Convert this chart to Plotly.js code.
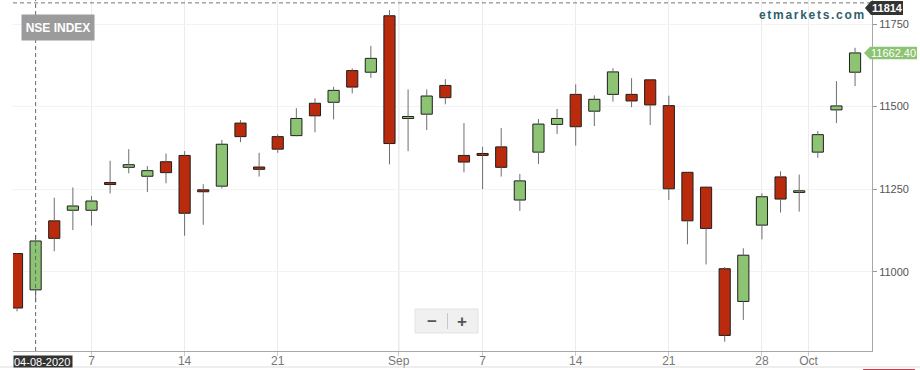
<!DOCTYPE html>
<html>
<head>
<meta charset="utf-8">
<script src="https://cdn.plot.ly/plotly-3.0.1.min.js"></script>
<style>
html,body{margin:0;padding:0;background:#fff;}
#chart{width:920px;height:370px;}
</style>
</head>
<body>
<div id="chart"></div>
<script>
// ---- data (NSE index, daily) ----
const dates = ['2020-08-03','2020-08-04','2020-08-05','2020-08-06','2020-08-07','2020-08-10','2020-08-11','2020-08-12','2020-08-13','2020-08-14',
  '2020-08-17','2020-08-18','2020-08-19','2020-08-20','2020-08-21','2020-08-24','2020-08-25','2020-08-26','2020-08-27','2020-08-28',
  '2020-08-31','2020-09-01','2020-09-02','2020-09-03','2020-09-04','2020-09-07','2020-09-08','2020-09-09','2020-09-10','2020-09-11',
  '2020-09-14','2020-09-15','2020-09-16','2020-09-17','2020-09-18','2020-09-21','2020-09-22','2020-09-23','2020-09-24','2020-09-25',
  '2020-09-28','2020-09-29','2020-09-30','2020-10-01','2020-10-05','2020-10-06'];
const openV  = [11055,10945,11154,11186,11186,11270,11316,11289,11333,11352,
  11248,11259,11450,11317,11409,11412,11510,11513,11609,11604,
  11775,11464,11477,11564,11352,11358,11378,11217,11362,11446,
  11537,11486,11537,11537,11581,11503,11301,11256,11009,10910,
  11141,11287,11240,11362,11490,11604];
const highV  = [11056,11110,11224,11255,11229,11336,11371,11320,11358,11365,
  11265,11399,11459,11360,11416,11495,11525,11560,11616,11684,
  11792,11552,11552,11583,11450,11378,11435,11296,11462,11493,
  11567,11534,11616,11586,11583,11533,11302,11258,11014,11071,
  11237,11304,11294,11426,11577,11678];
const lowV   = [10880,10907,11062,11126,11140,11237,11298,11241,11268,11109,
  11142,11252,11392,11288,11360,11410,11422,11461,11540,11587,
  11325,11365,11429,11507,11301,11250,11288,11184,11326,11417,
  11382,11441,11515,11498,11444,11217,11083,11022,10788,10854,
  11098,11179,11182,11345,11450,11562];
const closeV = [10890,11093,11101,11199,11214,11264,11324,11306,11300,11177,
  11242,11386,11409,11310,11371,11464,11472,11549,11559,11646,
  11388,11470,11532,11527,11332,11352,11316,11275,11447,11464,
  11439,11522,11605,11517,11505,11251,11154,11131,10807,11050,
  11227,11220,11245,11415,11502,11662.40];

const tickDates  = ['2020-08-07','2020-08-14','2020-08-21','2020-09-01','2020-09-07','2020-09-14','2020-09-21','2020-09-28','2020-10-01'];
const tickLabels = ['7','14','21','Sep','7','14','21','28','Oct'];
const yTicks = [11000, 11250, 11500, 11750];
const crosshairDate = '2020-08-04';
const crosshairLabel = '04-08-2020';
const crosshairValue = 11814;
const chartTitle = 'NSE INDEX';
const brand = 'etmarkets.com';

// ---- derived ----
const idx = dates.map((d,i)=>i);
const isMonth = tickLabels.map(t => isNaN(Number(t)));
const tickVals = tickDates.map((d,k)=> dates.indexOf(d) - (isMonth[k] ? 0.5 : 0));
const bodyTop = openV.map((o,i)=>Math.max(o, closeV[i]));
const bodyBase = openV.map((o,i)=>Math.min(o, closeV[i]));
const bodyH = openV.map((o,i)=>Math.abs(closeV[i]-o));
const GREEN = '#8dc474', RED = '#b92b0c';
const bodyColor = openV.map((o,i)=> closeV[i] >= o ? GREEN : RED);
const lastClose = closeV[closeV.length-1];

// wick segments (upper: body top -> high, lower: low -> body bottom)
const wickX = [], wickY = [];
idx.forEach(i=>{
  wickX.push(i, i, null, i, i, null);
  wickY.push(bodyTop[i], highV[i], null, lowV[i], bodyBase[i], null);
});

// pixel helpers for decorations (plot area: x 13..872, y 0..351)
const L = 13, R = 872, T = 0, B = 351;
const X = px => (px - L) / (R - L);
const Y = py => 1 - (py - T) / (B - T);
const yRange = [10759.9, 11822.7];
const xRange = [-0.215, 45.91];
const fracY = v => (v - yRange[0]) / (yRange[1] - yRange[0]);

const traces = [
  {
    type: 'bar', x: idx, base: bodyBase, y: bodyH, width: 0.6,
    marker: {color: bodyColor, line: {color: '#1e1e1e', width: 1}},
    hoverinfo: 'skip', showlegend: false
  },
  {
    type: 'scatter', mode: 'lines', x: wickX, y: wickY, connectgaps: false,
    line: {color: '#6e6e6e', width: 1}, hoverinfo: 'skip', showlegend: false
  }
];

const shapes = [];
// month separator lines (darker)
tickVals.forEach((v,k)=>{
  if (isMonth[k]) shapes.push({type:'line', xref:'x', yref:'paper', x0:v, x1:v, y0:0, y1:1,
    line:{color:'#d2d2d2', width:1}, layer:'below'});
});
// crosshair
const chX = dates.indexOf(crosshairDate);
shapes.push({type:'line', xref:'x', yref:'paper', x0:chX, x1:chX, y0:0, y1:1,
  line:{color:'#666', width:1, dash:'4px,3px'}});
shapes.push({type:'line', xref:'paper', yref:'y', x0:0, x1:1, y0:crosshairValue, y1:crosshairValue,
  line:{color:'#777', width:1, dash:'4px,3px'}});
// 11814 label bg (dark, arrow left)
shapes.push({type:'path', xref:'paper', yref:'paper',
  path:`M ${X(865)},${Y(8)} L ${X(871)},${Y(1)} L ${X(903)},${Y(1)} L ${X(903)},${Y(15)} L ${X(871)},${Y(15)} Z`,
  fillcolor:'#333333', line:{width:0}});
// last price label bg (green, arrow left)
const fc = fracY(lastClose), hh = 6.3/(B-T);
shapes.push({type:'path', xref:'paper', yref:'paper',
  path:`M ${X(864)},${fc} L ${X(870)},${fc+hh} L ${X(917)},${fc+hh} L ${X(917)},${fc-hh} L ${X(870)},${fc-hh} Z`,
  fillcolor:GREEN, line:{width:0}});
// zoom control
shapes.push({type:'rect', xref:'paper', yref:'paper', x0:X(415), x1:X(478), y0:Y(309), y1:Y(333),
  fillcolor:'#f0f0f0', line:{color:'#e2e2e2', width:1}});
shapes.push({type:'line', xref:'paper', yref:'paper', x0:X(447.5), x1:X(447.5), y0:Y(313), y1:Y(329),
  line:{color:'#c8c8c8', width:1}});
// bottom page lines
shapes.push({type:'line', xref:'paper', yref:'paper', x0:X(0), x1:X(920), y0:Y(367), y1:Y(367),
  line:{color:'#dddddd', width:1}});
shapes.push({type:'line', xref:'paper', yref:'paper', x0:X(863), x1:X(915), y0:Y(369.5), y1:Y(369.5),
  line:{color:'#d9364a', width:1}});

const FONT = 'Arial, "Liberation Sans", sans-serif';
const annotations = [
  {xref:'paper', yref:'paper', x:X(58), y:Y(27.5), xanchor:'center', yanchor:'middle',
   text:'<b>'+chartTitle+'</b>', showarrow:false, bgcolor:'#9b9b9b', width:72, height:25, borderpad:0,
   font:{family:FONT, size:12, color:'#ffffff'}},
  {xref:'paper', yref:'paper', x:X(812), y:Y(15), xanchor:'center', yanchor:'middle',
   text:'<b><span style="letter-spacing:1.7px">'+brand+'</span></b>', showarrow:false,
   font:{family:FONT, size:12, color:'#2e5f6d'}},
  {xref:'paper', yref:'paper', x:X(887), y:Y(8), xanchor:'center', yanchor:'middle',
   text:'<b>'+crosshairValue+'</b>', showarrow:false, font:{family:FONT, size:11, color:'#ffffff'}},
  {xref:'paper', yref:'paper', x:X(893.5), y:fc, xanchor:'center', yanchor:'middle',
   text:lastClose.toFixed(2), showarrow:false, font:{family:FONT, size:11, color:'#ffffff'}},
  {xref:'paper', yref:'paper', x:X(13), y:Y(361.5), xanchor:'left', yanchor:'middle',
   text:crosshairLabel, showarrow:false, bgcolor:'#333333', width:58, height:11, borderpad:0, align:'left',
   font:{family:FONT, size:11, color:'#ffffff'}},
  {xref:'paper', yref:'paper', x:X(431.5), y:Y(321), xanchor:'center', yanchor:'middle',
   text:'<b>−</b>', showarrow:false, font:{family:FONT, size:17, color:'#555555'}},
  {xref:'paper', yref:'paper', x:X(462), y:Y(321), xanchor:'center', yanchor:'middle',
   text:'<b>+</b>', showarrow:false, font:{family:FONT, size:17, color:'#555555'}}
];

const layout = {
  width: 920, height: 370,
  margin: {l: L, r: 920 - R, t: T, b: 370 - B, pad: 0},
  paper_bgcolor: '#ffffff', plot_bgcolor: '#ffffff',
  showlegend: false, barmode: 'overlay',
  font: {family: FONT},
  xaxis: {
    type: 'linear', range: xRange,
    tickmode: 'array', tickvals: tickVals, ticktext: tickLabels,
    showgrid: true, gridcolor: '#ececec', gridwidth: 1, zeroline: false,
    showline: true, linecolor: '#a8a8a8', linewidth: 1,
    ticks: 'outside', ticklen: 4, tickcolor: '#cccccc', ticklabelstandoff: -5,
    tickfont: {family: FONT, size: 12, color: '#777777'}, automargin: false, fixedrange: true
  },
  yaxis: {
    side: 'right', range: yRange, tickmode: 'array', tickvals: yTicks, ticktext: yTicks.map(String),
    showgrid: true, gridcolor: '#f3f3f3', gridwidth: 1, zeroline: false,
    showline: true, linecolor: '#a8a8a8', linewidth: 1,
    ticks: 'outside', ticklen: 4, tickcolor: '#999999',
    tickfont: {family: FONT, size: 11, color: '#555555'}, automargin: false, fixedrange: true
  },
  shapes: shapes,
  annotations: annotations
};

Plotly.newPlot('chart', traces, layout, {staticPlot: true, displayModeBar: false});
</script>
</body>
</html>
